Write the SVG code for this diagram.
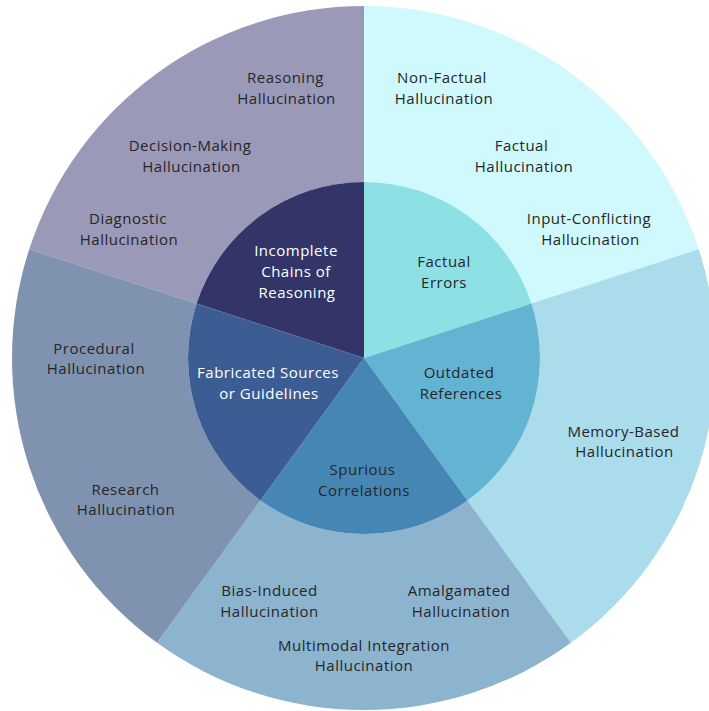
<svg xmlns="http://www.w3.org/2000/svg" width="709" height="711" viewBox="0 0 709 711">
<style>
text{font-family:"Open Sans","Liberation Sans",sans-serif;font-size:15px;letter-spacing:0.5px;text-anchor:middle;fill:#262626}
text.w{fill:#ffffff}
</style>
<rect width="709" height="711" fill="#ffffff"/>
<g id="connectors"></g>
<!-- outer ring -->
<g id="outer-incomplete">
<path d="M29.23 249.23 A352 352 0 0 1 364 6 L364 182 A176 176 0 0 0 196.61 303.61 Z" fill="#9a9ab8"/>
</g>
<g id="outer-factual">
<path d="M364 6 A352 352 0 0 1 698.77 249.23 L531.39 303.61 A176 176 0 0 0 364 182 Z" fill="#cff9fc"/>
</g>
<g id="outer-outdated">
<path d="M698.77 249.23 A352 352 0 0 1 570.9 642.77 L467.45 500.39 A176 176 0 0 0 531.39 303.61 Z" fill="#aadcec"/>
</g>
<g id="outer-spurious">
<path d="M570.9 642.77 A352 352 0 0 1 157.1 642.77 L260.55 500.39 A176 176 0 0 0 467.45 500.39 Z" fill="#8cb4cf"/>
</g>
<g id="outer-fabricated">
<path d="M157.1 642.77 A352 352 0 0 1 29.23 249.23 L196.61 303.61 A176 176 0 0 0 260.55 500.39 Z" fill="#7f93b1"/>
</g>
<!-- inner ring -->
<g id="incomplete-chains">
<path d="M364 358 L196.61 303.61 A176 176 0 0 1 364 182 Z" fill="#333568"/>
<text class="w" x="296" y="256">Incomplete</text>
<text class="w" x="296" y="277">Chains of</text>
<text class="w" x="297" y="298">Reasoning</text>
</g>
<g id="factual-errors">
<path d="M364 358 L364 182 A176 176 0 0 1 531.39 303.61 Z" fill="#8de1e5"/>
<text x="444" y="267">Factual</text>
<text x="444" y="287.5">Errors</text>
</g>
<g id="outdated-references">
<path d="M364 358 L531.39 303.61 A176 176 0 0 1 467.45 500.39 Z" fill="#63b3d3"/>
<text x="459" y="378">Outdated</text>
<text x="461" y="398.5">References</text>
</g>
<g id="spurious-correlations">
<path d="M364 358 L467.45 500.39 A176 176 0 0 1 260.55 500.39 Z" fill="#4686b5"/>
<text x="362.5" y="475">Spurious</text>
<text x="364" y="495.5">Correlations</text>
</g>
<g id="fabricated-sources">
<path d="M364 358 L260.55 500.39 A176 176 0 0 1 196.61 303.61 Z" fill="#3c5d94"/>
<text class="w" x="268" y="378">Fabricated Sources</text>
<text class="w" x="269" y="398.5">or Guidelines</text>
</g>
<!-- outer labels -->
<g id="reasoning-hallucination">
<text x="285.5" y="83">Reasoning</text>
<text x="286.5" y="103.5">Hallucination</text>
</g>
<g id="decision-making-hallucination">
<text x="190" y="151">Decision-Making</text>
<text x="191.5" y="171.5">Hallucination</text>
</g>
<g id="diagnostic-hallucination">
<text x="128" y="224">Diagnostic</text>
<text x="129" y="245">Hallucination</text>
</g>
<g id="non-factual-hallucination">
<text x="442" y="83">Non-Factual</text>
<text x="444" y="103.5">Hallucination</text>
</g>
<g id="factual-hallucination">
<text x="521.5" y="151">Factual</text>
<text x="524" y="171.5">Hallucination</text>
</g>
<g id="input-conflicting-hallucination">
<text x="589" y="224">Input-Conflicting</text>
<text x="590.5" y="245">Hallucination</text>
</g>
<g id="memory-based-hallucination">
<text x="623.5" y="436.5">Memory-Based</text>
<text x="624.5" y="457">Hallucination</text>
</g>
<g id="bias-induced-hallucination">
<text x="269.5" y="596">Bias-Induced</text>
<text x="269.5" y="616.5">Hallucination</text>
</g>
<g id="amalgamated-hallucination">
<text x="459" y="596">Amalgamated</text>
<text x="461" y="616.5">Hallucination</text>
</g>
<g id="multimodal-integration-hallucination">
<text x="364" y="650.5">Multimodal Integration</text>
<text x="364" y="671">Hallucination</text>
</g>
<g id="procedural-hallucination">
<text x="94" y="353.5">Procedural</text>
<text x="96" y="374">Hallucination</text>
</g>
<g id="research-hallucination">
<text x="125.5" y="494.5">Research</text>
<text x="126" y="515">Hallucination</text>
</g>
</svg>
